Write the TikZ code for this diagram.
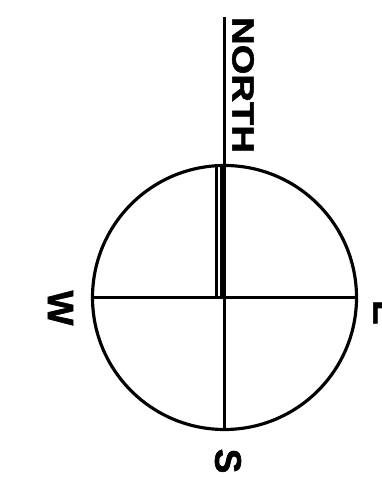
\documentclass[tikz,border=0pt]{standalone}
\usepackage{fontspec}
\setmainfont{Liberation Sans}[BoldFeatures={FakeBold=1.6}]
\usetikzlibrary{positioning}
\tikzstyle{dial}=[circle,draw,line width=1.8pt,minimum size=5.28cm,inner sep=0pt]
\tikzstyle{pnt}=[font=\fontsize{21}{21}\selectfont\bfseries,inner sep=0pt,rotate=-90]
\tikzstyle{ttl}=[font=\fontsize{17.4}{17.4}\selectfont\bfseries,inner sep=0pt,rotate=-90]
\tikzstyle{axis}=[line width=1.7pt]

\begin{document}
\begin{tikzpicture}
\useasboundingbox (0,0) rectangle (7.62,9.54);
\node (C) [dial] at (4.49,3.59) {};
\coordinate (top) at (4.49,9.20);
\draw [line width=1.4pt] (top) -- (C.south);
\draw [axis] (C.west) -- (C.east);
% needle
\draw [line width=1.3pt] (4.33,3.59) -- (4.33,6.23);
\draw [line width=2.2pt] (4.44,3.59) -- (4.44,6.23);
\node (N) [ttl] at (4.86,7.84) {\scalebox{1.25}[1]{NORTH}};
\node (W) [pnt] at (1.21,3.38) {W};
\node (S) [pnt] at (4.56,0.32) {S};
\node (E) [pnt] at (7.72,3.29) {E};
\end{tikzpicture}
\end{document}
